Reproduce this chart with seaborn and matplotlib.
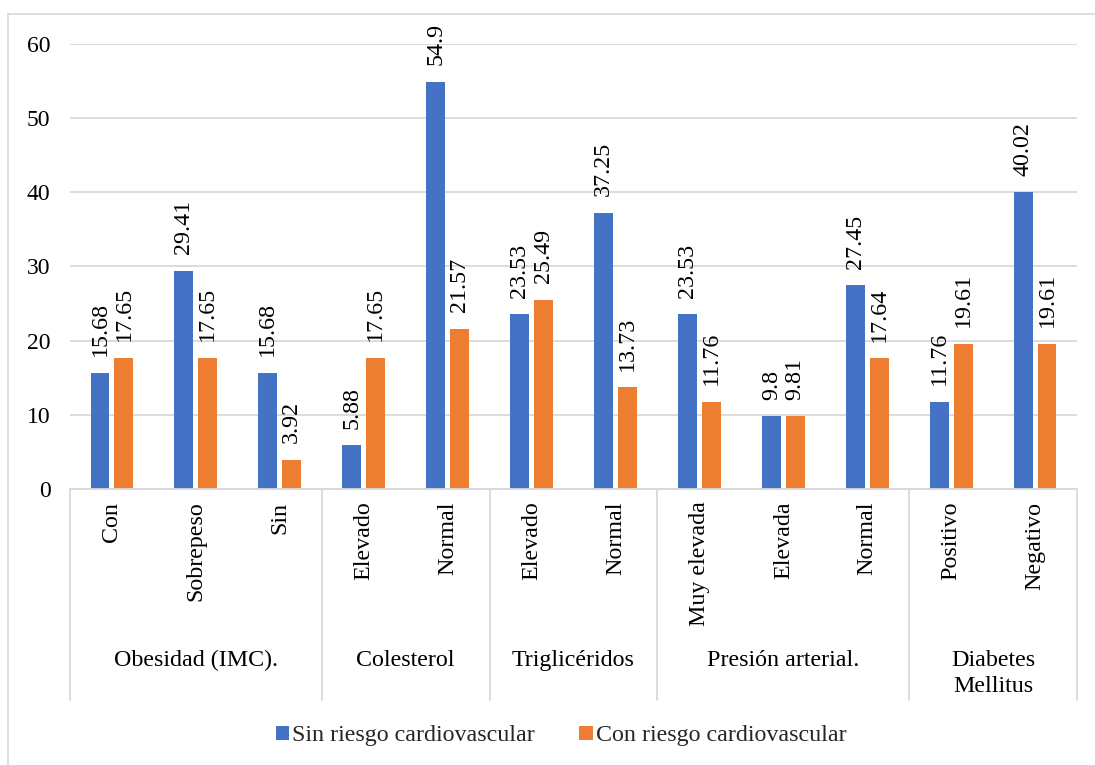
import matplotlib
matplotlib.use("Agg")
import matplotlib.pyplot as plt
from matplotlib.patches import Patch, Rectangle
import matplotlib.transforms as mtransforms
import seaborn as sns
import pandas as pd

# ---- data ----
groups = ["Obesidad (IMC).", "Colesterol", "Triglicéridos", "Presión arterial.", "Diabetes\nMellitus"]
group_sizes = [3, 2, 2, 3, 2]
subcats = ["Con", "Sobrepeso", "Sin",
           "Elevado", "Normal",
           "Elevado", "Normal",
           "Muy elevada", "Elevada", "Normal",
           "Positivo", "Negativo"]
series_names = ["Sin riesgo cardiovascular", "Con riesgo cardiovascular"]
sin_riesgo = [15.68, 29.41, 15.68, 5.88, 54.9, 23.53, 37.25, 23.53, 9.8, 27.45, 11.76, 40.02]
con_riesgo = [17.65, 17.65, 3.92, 17.65, 21.57, 25.49, 13.73, 11.76, 9.81, 17.64, 19.61, 19.61]
sin_labels = ["15.68", "29.41", "15.68", "5.88", "54.9", "23.53", "37.25", "23.53", "9.8", "27.45", "11.76", "40.02"]
con_labels = ["17.65", "17.65", "3.92", "17.65", "21.57", "25.49", "13.73", "11.76", "9.81", "17.64", "19.61", "19.61"]
colors = ["#4472C4", "#ED7D31"]

# ---- build table ----
keys = [f"{i}|{s}" for i, s in enumerate(subcats)]
rows = []
for k, a in zip(keys, sin_riesgo):
    rows.append({"key": k, "serie": series_names[0], "valor": a})
for k, b in zip(keys, con_riesgo):
    rows.append({"key": k, "serie": series_names[1], "valor": b})
df = pd.DataFrame(rows)

sns.set_theme(style="white")
plt.rcParams["font.family"] = ["Liberation Serif", "DejaVu Serif"]
FS = 17.3

fig = plt.figure(figsize=(10.95, 7.65), dpi=100)
ax = fig.add_axes([70 / 1095, 1 - 489 / 765, (1077 - 70) / 1095, (489 - 44) / 765])

sns.barplot(data=df, x="key", y="valor", hue="serie", order=keys, hue_order=series_names,
            palette=colors, width=0.57, dodge=True, ax=ax, legend=False, saturation=1,
            errorbar=None)

# narrow bars around their centres to leave a small gap
for cont in ax.containers:
    for p in cont.patches:
        c = p.get_x() + p.get_width() / 2
        w = 0.226
        p.set_x(c - w / 2)
        p.set_width(w)
        p.set_linewidth(0)

for cont, labs in zip(ax.containers, [sin_labels, con_labels]):
    ax.bar_label(cont, labels=labs, rotation=90, padding=12, fontsize=FS, color="#000000")

ax.set_ylim(0, 60)
ax.set_yticks(range(0, 61, 10))
ax.set_xlim(-0.5, len(subcats) - 0.5)
ax.set_xlabel("")
ax.set_ylabel("")
ax.yaxis.grid(True, color="#D9D9D9", linewidth=1.3)
ax.set_axisbelow(True)
for s in ["top", "right", "left"]:
    ax.spines[s].set_visible(False)
ax.spines["bottom"].set_color("#D9D9D9")
ax.spines["bottom"].set_linewidth(1.3)

ax.set_xticks(range(len(subcats)))
ax.set_xticklabels(subcats, rotation=90, fontsize=FS, color="#000000")
ax.tick_params(axis="x", length=0, pad=9)
ax.tick_params(axis="y", length=0, pad=14, labelsize=17, labelcolor="#000000")

# group separators and group labels
trans = mtransforms.blended_transform_factory(ax.transData, ax.transAxes)
sep_bottom = (489 - 700) / (489 - 44)
edges = [-0.5]
for n in group_sizes:
    edges.append(edges[-1] + n)
for e in edges:
    ax.plot([e, e], [0, sep_bottom], transform=trans, color="#D9D9D9", linewidth=1.3, clip_on=False)
for i, g in enumerate(groups):
    cx = (edges[i] + edges[i + 1]) / 2
    ax.text(cx, (489 - 650) / (489 - 44), g, transform=trans, ha="center", va="top",
            fontsize=FS, color="#000000", linespacing=1.33, multialignment="center")

# legend
handles = [Patch(facecolor=c, edgecolor="none") for c in colors]
fig.legend(handles, series_names, loc="center", bbox_to_anchor=(561 / 1095, 1 - 736 / 765),
           ncol=2, frameon=False, fontsize=FS, handlelength=0.58, handleheight=0.54,
           handletextpad=0.12, columnspacing=1.83)

# outer chart border
fig.patches.append(Rectangle((8 / 1095, -0.01), 1.0, 1 - 14 / 765 + 0.01, transform=fig.transFigure,
                             fill=False, edgecolor="#D9D9D9", linewidth=1.2))

fig.savefig("out.png", dpi=100)
